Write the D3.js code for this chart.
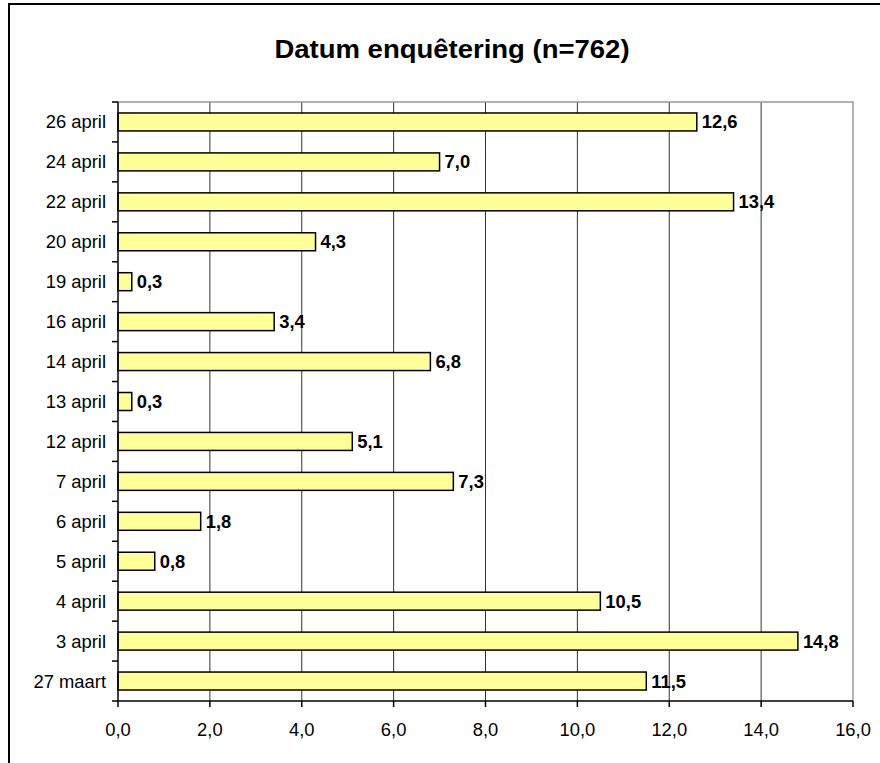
<!DOCTYPE html>
<html>
<head>
<meta charset="utf-8">
<script src="https://cdn.jsdelivr.net/npm/d3@7"></script>
<style>
  body { margin: 0; background: #fff; }
  text { font-family: "Liberation Sans", Arial, sans-serif; fill: #000; }
</style>
</head>
<body>
<div id="chart-area"></div>
<script>
// data, top to bottom as in the chart
const dates = ["26 april", "24 april", "22 april", "20 april", "19 april", "16 april", "14 april",
  "13 april", "12 april", "7 april", "6 april", "5 april", "4 april", "3 april", "27 maart"]
const percentages = [12.6, 7.0, 13.4, 4.3, 0.3, 3.4, 6.8, 0.3, 5.1, 7.3, 1.8, 0.8, 10.5, 14.8, 11.5]
const xTicks = [0, 2, 4, 6, 8, 10, 12, 14, 16]
const title = "Datum enquêtering (n=762)"

const W = 880, H = 763
const stretch = 1.05 // the original text looks a bit wide
const margin = { top: 102, right: 27, bottom: 62, left: 118 }
const width = W - margin.left - margin.right,
      height = H - margin.top - margin.bottom

const nl = d3.formatLocale({ decimal: ",", thousands: ".", grouping: [3], currency: ["€", ""] })
const fmt = nl.format(".1f")

const svg = d3.select("#chart-area").append("svg")
    .attr("width", W)
    .attr("height", H)

// outer frame (runs off the right and bottom edge like in the picture)
svg.append("rect")
    .attr("x", 9).attr("y", 4)
    .attr("width", W + 20).attr("height", H + 20)
    .attr("fill", "none")
    .attr("stroke", "#000")
    .attr("stroke-width", 2)

svg.append("text")
    .attr("transform", "translate(452,58) scale(1.1,1)")
    .attr("text-anchor", "middle")
    .attr("font-size", "25px")
    .attr("font-weight", "bold")
    .text(title)

const g = svg.append("g")
    .attr("transform", "translate(" + margin.left + "," + margin.top + ")")

const x = d3.scaleLinear()
    .domain([0, 16])
    .range([0, width])

const y = d3.scaleBand()
    .domain(dates)
    .range([0, height])
    .paddingInner(0.55)
    .paddingOuter(0.275)

// grid lines
g.selectAll(".grid")
    .data(xTicks.slice(1, -1))
    .enter().append("line")
    .attr("class", "grid")
    .attr("x1", d => x(d)).attr("x2", d => x(d))
    .attr("y1", 0).attr("y2", height)
    .attr("stroke", "#333")
    .attr("stroke-width", 1)

// plot frame top/right in grey
g.append("path")
    .attr("d", "M0,0H" + width + "V" + height)
    .attr("fill", "none")
    .attr("stroke", "#999")
    .attr("stroke-width", 1.5)

// bars
g.selectAll(".bar")
    .data(percentages)
    .enter().append("rect")
    .attr("class", "bar")
    .attr("x", x(0))
    .attr("y", (d, i) => y(dates[i]))
    .attr("width", d => x(d) - x(0))
    .attr("height", y.bandwidth())
    .attr("fill", "#ffff99")
    .attr("stroke", "#000")
    .attr("stroke-width", 1.5)

// value labels
g.selectAll(".val")
    .data(percentages)
    .enter().append("text")
    .attr("class", "val")
    .attr("transform", (d, i) => "translate(" + (x(d) + 5) + "," + (y(dates[i]) + y.bandwidth() / 2 + 6.5) + ") scale(" + stretch + ",1)")
    .attr("font-size", "17.5px")
    .attr("font-weight", "bold")
    .text(d => fmt(d))

// x axis
const xAxis = g.append("g")
    .attr("transform", "translate(0," + height + ")")
xAxis.append("line")
    .attr("x1", 0).attr("x2", width)
    .attr("stroke", "#000").attr("stroke-width", 1.5)
xAxis.selectAll(".tick")
    .data(xTicks)
    .enter().append("line")
    .attr("x1", d => x(d)).attr("x2", d => x(d))
    .attr("y1", 0).attr("y2", 6)
    .attr("stroke", "#000").attr("stroke-width", 1.5)
xAxis.selectAll(".tl")
    .data(xTicks)
    .enter().append("text")
    .attr("class", "tl")
    .attr("transform", d => "translate(" + x(d) + ",35) scale(" + stretch + ",1)")
    .attr("text-anchor", "middle")
    .attr("font-size", "17.5px")
    .text(d => fmt(d))

// y axis
const yAxis = g.append("g")
yAxis.append("line")
    .attr("y1", 0).attr("y2", height)
    .attr("stroke", "#000").attr("stroke-width", 1.5)
const bounds = dates.map(d => y(d) - y.step() * y.paddingInner() / 2)
bounds.push(height)
yAxis.selectAll(".ytick")
    .data(bounds)
    .enter().append("line")
    .attr("class", "ytick")
    .attr("x1", -6).attr("x2", 0)
    .attr("y1", d => d).attr("y2", d => d)
    .attr("stroke", "#000").attr("stroke-width", 1.5)
yAxis.selectAll(".yl")
    .data(dates)
    .enter().append("text")
    .attr("class", "yl")
    .attr("transform", d => "translate(-12," + (y(d) + y.bandwidth() / 2 + 6.5) + ") scale(" + stretch + ",1)")
    .attr("text-anchor", "end")
    .attr("font-size", "17.5px")
    .text(d => d)
</script>
</body>
</html>
